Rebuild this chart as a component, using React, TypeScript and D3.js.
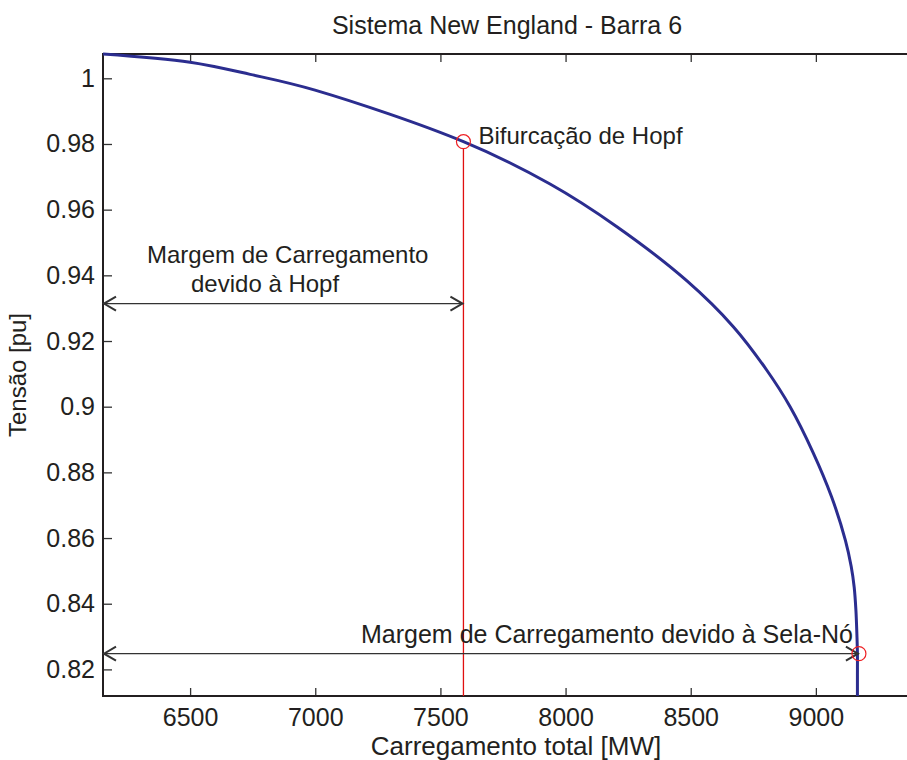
import { useEffect, useRef } from "react";
import * as d3 from "d3";

// curve: total load [MW] vs voltage [pu]
const loadMW = [6152, 6500, 6740, 6999, 7592, 7938, 8205, 8485, 8671, 8804, 8897, 8988, 9063, 9118, 9141, 9153, 9160, 9164, 9166, 9166, 9166];
const voltagePU = [1.0074, 1.0049, 1.0012, 0.9964, 0.9807, 0.9678, 0.9548, 0.9383, 0.9243, 0.9111, 0.9, 0.8862, 0.8725, 0.8593, 0.8514, 0.8451, 0.838, 0.8304, 0.8249, 0.8182, 0.8119];

const hopfPoint = [7592, 0.9807];
const nosePoint = [9172, 0.8248];
const hopfArrowV = 0.9314;

const xDomain = [6152, 9416];
const yDomain = [0.8119, 1.0074];
const xTicks = [6500, 7000, 7500, 8000, 8500, 9000];
const yTicks = [0.82, 0.84, 0.86, 0.88, 0.9, 0.92, 0.94, 0.96, 0.98, 1];

const FONT = "'Liberation Sans', Arial, Helvetica, sans-serif";
const INK = "#231f20";

const App = () => {
    const container = useRef<SVGSVGElement>(null);

    useEffect(() => {
        const svg = d3.select(container.current);
        svg.selectAll("*").remove();

        const left = 103, right = 920, top = 54, bottom = 696;

        const x = d3.scaleLinear().domain(xDomain).range([left, right]);
        const y = d3.scaleLinear().domain(yDomain).range([bottom, top]);

        const styleAxis = (g) => {
            g.select(".domain").remove();
            g.selectAll("line").attr("stroke", "#333").attr("stroke-width", 1.3);
            g.selectAll("text").attr("fill", INK).style("font-family", FONT).style("font-size", "25px");
        };

        svg.append("g")
            .attr("transform", `translate(0,${bottom})`)
            .call(d3.axisBottom(x).tickValues(xTicks).tickSizeInner(-8).tickSizeOuter(0).tickPadding(12).tickFormat(d3.format("d")))
            .call(styleAxis);

        svg.append("g")
            .attr("transform", `translate(0,${top})`)
            .call(d3.axisTop(x).tickValues(xTicks).tickSizeInner(-8).tickSizeOuter(0).tickFormat(() => ""))
            .call(styleAxis);

        svg.append("g")
            .attr("transform", `translate(${left},0)`)
            .call(d3.axisLeft(y).tickValues(yTicks).tickSizeInner(-9).tickSizeOuter(0).tickPadding(8).tickFormat((d) => String(+(+d).toFixed(2))))
            .call(styleAxis);

        // box
        svg.append("rect")
            .attr("x", left).attr("y", top)
            .attr("width", right - left).attr("height", bottom - top)
            .attr("fill", "none").attr("stroke", INK).attr("stroke-width", 2);

        // Hopf vertical marker
        svg.append("line")
            .attr("x1", x(hopfPoint[0])).attr("x2", x(hopfPoint[0]))
            .attr("y1", y(hopfPoint[1]) + 7).attr("y2", bottom)
            .attr("stroke", "#e01010").attr("stroke-width", 1.3);

        // PV curve
        const line = d3.line<number>()
            .x((d, i) => x(loadMW[i]))
            .y((d) => y(d))
            .curve(d3.curveCatmullRom.alpha(0.5));

        svg.append("path")
            .attr("d", line(voltagePU))
            .attr("fill", "none")
            .attr("stroke", "#2b2d8f")
            .attr("stroke-width", 3);

        // double arrows
        const arrow = (x1, x2, yy) => {
            const g = svg.append("g").attr("stroke", "#333").attr("fill", "none");
            g.append("line").attr("x1", x1).attr("x2", x2).attr("y1", yy).attr("y2", yy).attr("stroke-width", 1.2);
            g.append("path").attr("d", `M${x1 + 13},${yy - 7}L${x1 + 1},${yy}L${x1 + 13},${yy + 7}`).attr("stroke-width", 2);
            g.append("path").attr("d", `M${x2 - 13},${yy - 7}L${x2 - 1},${yy}L${x2 - 13},${yy + 7}`).attr("stroke-width", 2);
        };
        arrow(left, x(hopfPoint[0]), y(hopfArrowV));
        arrow(left, x(nosePoint[0]), y(nosePoint[1]));

        // red circles
        [hopfPoint, nosePoint].forEach((p) => {
            svg.append("circle")
                .attr("cx", x(p[0])).attr("cy", y(p[1])).attr("r", 7)
                .attr("fill", "none").attr("stroke", "#ee2024").attr("stroke-width", 1.2);
        });

        const label = (txt, xx, yy, anchor = "start", size = 24) =>
            svg.append("text")
                .attr("x", xx).attr("y", yy)
                .attr("text-anchor", anchor)
                .attr("fill", INK)
                .style("font-family", FONT)
                .style("font-size", `${size}px`)
                .text(txt);

        label("Bifurcação de Hopf", x(hopfPoint[0]) + 15, y(hopfPoint[1]) + 2);
        label("Margem de Carregamento", 147, 263);
        label("devido à Hopf", 191, 292);
        label("Margem de Carregamento devido à Sela-Nó", x(nosePoint[0]) - 6, y(nosePoint[1]) - 11, "end", 25);

        label("Sistema New England - Barra 6", 507, 34, "middle", 25);
        label("Carregamento total [MW]", 516, 755, "middle", 26);
        label("Tensão [pu]", 0, 0, "middle")
            .attr("transform", `translate(26,375) rotate(-90)`);
    }, []);

    return (
        <svg ref={container} width={907} height={760}
            style={{ position: "absolute", left: 0, top: 0, background: "#fff" }} />
    );
};

export default App;
